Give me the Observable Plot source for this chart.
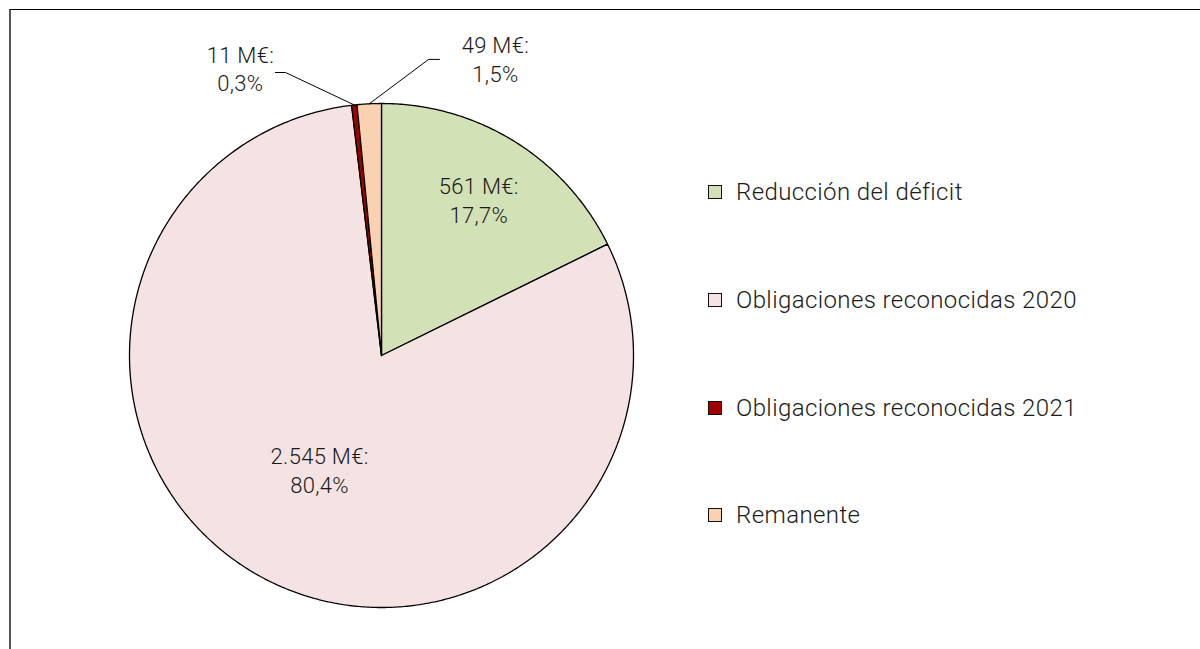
<!DOCTYPE html>
<html>
<head>
<meta charset="utf-8">
<script src="https://cdn.jsdelivr.net/npm/d3@7"></script>
<script src="https://cdn.jsdelivr.net/npm/@observablehq/plot@0.6"></script>
<style>
  html, body { margin: 0; padding: 0; background: #fff; }
  body { width: 1200px; height: 649px; position: relative; overflow: hidden; font-family: Roboto, "Liberation Sans", sans-serif; }
  #frame { position: absolute; left: 9px; top: 9px; width: 1200px; height: 700px; border-top: 1.5px solid #000; border-left: 2px solid #555; box-sizing: border-box; }
  #chart { position: absolute; left: 0; top: 0; }
  #chart text { letter-spacing: 0.3px; }
  #legend { position: absolute; left: 708px; top: 0; }
  .item { position: absolute; left: 0; display: flex; align-items: center; white-space: nowrap; transform: translateY(-50%); }
  .sw { width: 12px; height: 12px; border: 1px solid #111; margin-right: 14px; flex: none; }
  .lab { font-size: 24px; font-weight: 300; color: #1a1a1a; letter-spacing: 0.4px; }
</style>
</head>
<body>
<div id="frame"></div>
<div id="chart"></div>
<div id="legend"></div>
<script>
// ---- data ----
const categories = ["Reducción del déficit", "Obligaciones reconocidas 2020", "Obligaciones reconocidas 2021", "Remanente"];
const values = [561, 2545, 11, 49];
const amounts = ["561 M€", "2.545 M€", "11 M€", "49 M€"];
const percents = ["17,7%", "80,4%", "0,3%", "1,5%"];
const colors = ["#d2e1b6", "#f5e2e3", "#a00000", "#fad2b1"];

// ---- layout (label placement) ----
const labelLayout = [
  {radial: 0.73},
  {radial: 0.515},
  {x: -0.56, y: 1.141, leader: [[-0.421, 1.123], [-0.381, 1.123]]},
  {x: 0.452, y: 1.179, leader: [[0.230, 1.175], [0.187, 1.175]]}
];

const arcs = d3.pie().sort(null).value(d => d)(values);

// slice outlines as closed polygons (centre -> arc -> centre)
const slicePts = [];
arcs.forEach((a, i) => {
  const n = Math.max(4, Math.ceil((a.endAngle - a.startAngle) / (Math.PI / 360)));
  slicePts.push({cat: categories[i], x: 0, y: 0});
  for (let k = 0; k <= n; k++) {
    const t = a.startAngle + (a.endAngle - a.startAngle) * k / n;
    slicePts.push({cat: categories[i], x: Math.sin(t), y: Math.cos(t)});
  }
  slicePts.push({cat: categories[i], x: 0, y: 0});
});

const labels = arcs.map((a, i) => {
  const L = labelLayout[i];
  const mid = (a.startAngle + a.endAngle) / 2;
  const text = amounts[i] + ":\n" + percents[i];
  if (L.radial) return {x: L.radial * Math.sin(mid), y: L.radial * Math.cos(mid), text};
  return {x: L.x, y: L.y, text};
});

const leaders = [];
arcs.forEach((a, i) => {
  const L = labelLayout[i];
  if (!L.leader) return;
  const mid = (a.startAngle + a.endAngle) / 2;
  L.leader.forEach(p => leaders.push({id: i, x: p[0], y: p[1]}));
  leaders.push({id: i, x: Math.sin(mid), y: Math.cos(mid)});
});

const plot = Plot.plot({
  width: 1200,
  height: 649,
  marginLeft: 129,
  marginRight: 567,
  marginTop: 103,
  marginBottom: 42,
  x: {domain: [-1, 1], axis: null},
  y: {domain: [-1, 1], axis: null},
  color: {domain: categories, range: colors},
  style: {background: "transparent", fontFamily: "Roboto, 'Liberation Sans', sans-serif"},
  marks: [
    Plot.line(slicePts, {x: "x", y: "y", z: "cat", fill: "cat", stroke: "#000", strokeWidth: 1.3, strokeLinejoin: "miter"}),
    Plot.line(leaders, {x: "x", y: "y", z: "id", stroke: "#000", strokeWidth: 1}),
    Plot.text(labels, {x: "x", y: "y", text: "text", fontSize: 22, fontWeight: 300, lineHeight: 1.3, fill: "#1a1a1a"})
  ]
});
document.getElementById("chart").appendChild(plot);

// legend
const legendRows = [192, 300, 407.5, 515];
const legend = document.getElementById("legend");
categories.forEach((c, i) => {
  const row = document.createElement("div");
  row.className = "item";
  row.style.top = legendRows[i] + "px";
  const sw = document.createElement("div");
  sw.className = "sw";
  sw.style.background = colors[i];
  const lab = document.createElement("span");
  lab.className = "lab";
  lab.textContent = c;
  row.appendChild(sw);
  row.appendChild(lab);
  legend.appendChild(row);
});
</script>
</body>
</html>
